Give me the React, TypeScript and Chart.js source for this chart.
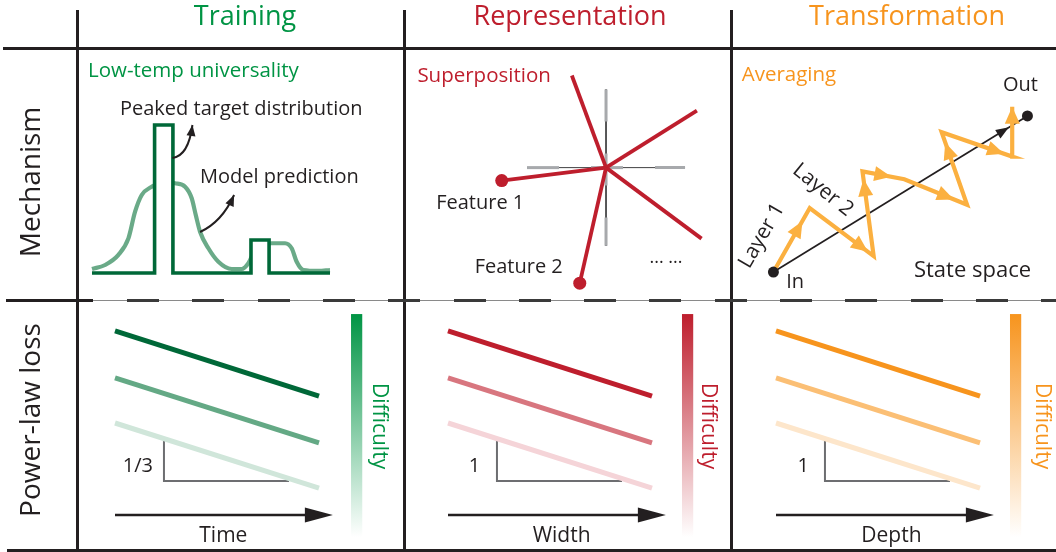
import React, { useEffect, useRef } from "react";
import { Chart, registerables } from "chart.js";

Chart.register(...registerables);

// ---------------- headings ----------------
const columnTitles = ["Training", "Representation", "Transformation"];
const rowTitles = ["Mechanism", "Power-law loss"];
const mechanismTitles = ["Low-temp universality", "Superposition", "Averaging"];
const resourceNames = ["Time", "Width", "Depth"];
const slopeNames = ["1/3", "1", "1"];
const featureNames = ["Feature 1", "Feature 2"];

// ---------------- Training: peaked target vs. model prediction ----------------
// token position (arbitrary units) and probability (peak = 1)
const targetToken = [0, 2.63, 2.63, 3.4, 3.4, 6.68, 6.68, 7.44, 7.44, 10];
const targetProb = [0, 0, 1, 1, 0, 0, 0.223, 0.223, 0, 0];
const predToken = [0, 0.55, 1.11, 1.53, 1.81, 2.09, 2.51, 2.98, 3.49, 3.91, 4.19, 4.36, 4.54, 4.89, 5.31, 5.87, 6.29, 6.57, 6.85, 7.14, 7.55, 8.11, 8.39, 8.6, 8.88, 9.51, 10];
const predProb = [0.027, 0.054, 0.122, 0.234, 0.414, 0.527, 0.583, 0.615, 0.606, 0.583, 0.505, 0.392, 0.279, 0.167, 0.076, 0.027, 0.027, 0.066, 0.155, 0.196, 0.201, 0.201, 0.167, 0.076, 0.02, 0.014, 0.02];

// ---------------- Representation: feature directions in a 2-D space ----------------
const featureX = [-1.056, -0.266, -0.346, 0.92, 0.967];
const featureY = [-0.133, -1.183, 0.943, 0.583, -0.727];

// ---------------- Transformation: per-layer updates through state space ----------------
const stateX = [0, 0.367, 1.013, 0.9, 1.323, 1.957, 1.7, 2.417, 2.413];
const stateY = [0, 0.653, 0.163, 1.027, 0.947, 0.687, 1.427, 1.177, 1.687];
const stateIn = [0, 0];
const stateOut = [2.567, 1.593];

// ---------------- Power-law loss (log-log), three difficulty levels ----------------
const logResource = [0, 1];
const lossHard = [0.902, 0.583];
const lossMedium = [0.672, 0.353];
const lossEasy = [0.451, 0.132];
const slopeGuideX = [0.24, 0.24, 0.853];
const slopeGuideY = [0.368, 0.167, 0.167];

// ---------------- layout & style ----------------
const W = 1056;
const H = 552;
const FONT = '"Open Sans", "Noto Sans", "DejaVu Sans", sans-serif';
const INK = "#231f20";
const GREEN = "#009444";
const RED = "#be1e2d";
const ORANGE = "#f7941d";
const AMBER = "#fbb040";
const columnCenters = [245, 570, 907];
const accent = [GREEN, RED, ORANGE];
const lossShades = [
  ["#006838", "#64a985", "#d0e6da"],
  ["#be1e2d", "#d8767f", "#f5d4d8"],
  ["#f7941d", "#fbbf75", "#fde6cb"],
];
const bottomOrigins = [115, 448, 776];
const axisTip = 1.068;
const resourceLabelX = [0.531, 0.557, 0.566];
const slopeLabelX = [0.186, 0.158, 0.162];
const barLeft = [1.157, 1.147, 1.147];
const difficultyX = [1.265, 1.245, 1.275];
const amberHeadT = [0.8, 0.91, 0.91, 0.69, 0.79, 0.86, 0.88, 1.0];

type Frame = { ox: number; oy: number; sx: number; sy: number };
type Px = (v: number) => number;
type Overlay = (ctx: CanvasRenderingContext2D, px: Px, py: Px) => void;

const pts = (xs: number[], ys: number[]) => xs.map((x, i) => ({ x, y: ys[i] }));

function line(data: { x: number; y: number }[], color: string, width: number, extra: any = {}) {
  return {
    data,
    showLine: true,
    borderColor: color,
    borderWidth: width,
    pointRadius: 0,
    pointHoverRadius: 0,
    fill: false,
    borderCapStyle: "butt",
    ...extra,
  };
}

function text(
  ctx: CanvasRenderingContext2D,
  s: string,
  x: number,
  y: number,
  o: { size: number; color?: string; align?: CanvasTextAlign; baseline?: CanvasTextBaseline; rot?: number }
) {
  ctx.save();
  ctx.translate(x, y);
  if (o.rot) ctx.rotate((o.rot * Math.PI) / 180);
  ctx.font = `400 ${o.size}px ${FONT}`;
  ctx.fillStyle = o.color || INK;
  ctx.textAlign = o.align || "left";
  ctx.textBaseline = o.baseline || "alphabetic";
  ctx.fillText(s, 0, 0);
  ctx.restore();
}

function arrowHead(ctx: CanvasRenderingContext2D, tx: number, ty: number, ang: number, len: number, half: number, color: string) {
  ctx.save();
  ctx.translate(tx, ty);
  ctx.rotate(ang);
  ctx.fillStyle = color;
  ctx.beginPath();
  ctx.moveTo(0, 0);
  ctx.lineTo(-len, -half);
  ctx.lineTo(-len, half);
  ctx.closePath();
  ctx.fill();
  ctx.restore();
}

function curvedArrow(ctx: CanvasRenderingContext2D, px: Px, py: Px, p: number[][]) {
  const [a, c, b] = p.map(([x, y]) => [px(x), py(y)]);
  ctx.save();
  ctx.strokeStyle = INK;
  ctx.lineWidth = 2;
  ctx.beginPath();
  ctx.moveTo(a[0], a[1]);
  ctx.quadraticCurveTo(c[0], c[1], b[0], b[1]);
  ctx.stroke();
  ctx.restore();
  arrowHead(ctx, b[0], b[1], Math.atan2(b[1] - c[1], b[0] - c[0]), 11, 4.5, INK);
}

function ChartLayer({ frame, datasets, overlay }: { frame: Frame; datasets: any[]; overlay: Overlay }) {
  const ref = useRef<HTMLCanvasElement | null>(null);
  useEffect(() => {
    const canvas = ref.current;
    if (!canvas) return;
    const chart = new Chart(canvas, {
      type: "scatter",
      data: { datasets },
      options: {
        animation: false,
        responsive: false,
        maintainAspectRatio: false,
        devicePixelRatio: 1,
        events: [],
        layout: { padding: 0 },
        plugins: { legend: { display: false }, tooltip: { enabled: false } },
        scales: {
          x: { type: "linear", display: false, bounds: "data", min: -frame.ox / frame.sx, max: (W - frame.ox) / frame.sx },
          y: { type: "linear", display: false, bounds: "data", min: (frame.oy - H) / frame.sy, max: frame.oy / frame.sy },
        },
      } as any,
      plugins: [
        {
          id: "panelOverlay",
          afterDatasetsDraw(c: any) {
            const ctx = c.ctx as CanvasRenderingContext2D;
            ctx.save();
            overlay(ctx, (v) => c.scales.x.getPixelForValue(v), (v) => c.scales.y.getPixelForValue(v));
            ctx.restore();
          },
        },
      ],
    });
    return () => chart.destroy();
  }, []);
  return <canvas ref={ref} width={W} height={H} style={{ position: "absolute", left: 0, top: 0, width: W, height: H }} />;
}

// ---------------- panel: Training / Mechanism ----------------
const trainingFrame: Frame = { ox: 92, oy: 273, sx: 23.8, sy: 148 };
const targetCallout = [[3.376, 0.777], [4.05, 0.791], [4.22, 1.0]];
const predCallout = [[4.54, 0.277], [5.46, 0.345], [5.97, 0.527]];
const trainingSets = [
  line(pts(targetToken, targetProb), "#006838", 3.6, { fill: "origin", backgroundColor: "#ffffff", borderJoinStyle: "miter" }),
  line(pts(predToken, predProb), "#6aaa88", 4.2, { cubicInterpolationMode: "monotone" }),
];
const trainingOverlay: Overlay = (ctx, px, py) => {
  text(ctx, columnTitles[0], columnCenters[0], 25, { size: 27, color: GREEN, align: "center" });
  text(ctx, rowTitles[0], 40, 182, { size: 28, align: "center", rot: -90 });
  text(ctx, mechanismTitles[0], px(-0.168), py(1.324), { size: 20.5, color: GREEN });
  text(ctx, "Peaked target distribution", px(1.176), py(1.068), { size: 20 });
  text(ctx, "Model prediction", px(4.538), py(0.608), { size: 20 });
  curvedArrow(ctx, px, py, targetCallout);
  curvedArrow(ctx, px, py, predCallout);
};

// ---------------- panel: Representation / Mechanism ----------------
const reprFrame: Frame = { ox: 607, oy: 165, sx: 100, sy: 100 };
const reprSets = [
  { data: pts(featureX.slice(0, 2), featureY.slice(0, 2)), showLine: false, pointRadius: 6.5, pointBackgroundColor: RED, pointBorderWidth: 0 },
  ...featureX.map((fx, i) => line(pts([0, fx], [0, featureY[i]]), RED, 3.8)),
  line(pts([-0.8, 0.8], [0, 0]), "#a7a9ac", 3, { borderDash: [32, 32] }),
  line(pts([0, 0], [0.8, -0.8]), "#a7a9ac", 3, { borderDash: [32, 32] }),
  line(pts([-0.8, 0.8], [0, 0]), "#414042", 1),
  line(pts([0, 0], [0.8, -0.8]), "#414042", 1),
];
const featureLabelX = [-1.72, -1.33];
const featureLabelY = [-0.42, -1.08];
const reprOverlay: Overlay = (ctx, px, py) => {
  text(ctx, columnTitles[1], columnCenters[1], 25, { size: 27, color: RED, align: "center" });
  text(ctx, mechanismTitles[1], px(-1.91), py(0.88), { size: 20.5, color: RED });
  featureNames.forEach((n, i) => text(ctx, n, px(featureLabelX[i]), py(featureLabelY[i]), { size: 20 }));
  text(ctx, "... ...", px(0.44), py(-0.98), { size: 18 });
};

// ---------------- panel: Transformation / Mechanism ----------------
const transFrame: Frame = { ox: 776, oy: 272, sx: 100, sy: 100 };
const transSets = [
  { data: pts([stateIn[0], stateOut[0]], [stateIn[1], stateOut[1]]), showLine: false, pointRadius: 5.5, pointBackgroundColor: INK, pointBorderWidth: 0 },
  line(pts(stateX, stateY), AMBER, 4.2, { borderJoinStyle: "miter" }),
  line(pts([stateIn[0], stateOut[0]], [stateIn[1], stateOut[1]]), INK, 1.7),
];
const transOverlay: Overlay = (ctx, px, py) => {
  text(ctx, columnTitles[2], columnCenters[2], 25, { size: 27, color: ORANGE, align: "center" });
  text(ctx, mechanismTitles[2], px(-0.32), py(1.95), { size: 20.5, color: ORANGE });
  text(ctx, "Out", px(2.32), py(1.85), { size: 20 });
  text(ctx, "In", px(0.13), py(-0.16), { size: 20 });
  text(ctx, "State space", px(1.42), py(-0.05), { size: 22 });
  text(ctx, "Layer 1", px(-0.117), py(0.37), { size: 21, align: "center", baseline: "middle", rot: -60 });
  text(ctx, "Layer 2", px(0.5), py(0.837), { size: 21, align: "center", baseline: "middle", rot: 39 });
  // arrowhead on the direct In -> Out route
  {
    const t = 0.927;
    const ax = px(stateIn[0]), ay = py(stateIn[1]), bx = px(stateOut[0]), by = py(stateOut[1]);
    arrowHead(ctx, ax + (bx - ax) * t, ay + (by - ay) * t, Math.atan2(by - ay, bx - ax), 13, 5, INK);
  }
  // arrowheads on each per-layer update
  for (let i = 0; i < stateX.length - 1; i++) {
    const ax = px(stateX[i]), ay = py(stateY[i]), bx = px(stateX[i + 1]), by = py(stateY[i + 1]);
    const t = amberHeadT[i];
    arrowHead(ctx, ax + (bx - ax) * t, ay + (by - ay) * t, Math.atan2(by - ay, bx - ax), 17, 7.5, AMBER);
  }
};

// ---------------- panels: Power-law loss ----------------
const lossFrame = (i: number): Frame => ({ ox: bottomOrigins[i], oy: 515, sx: 204, sy: 204 });
const lossSets = (i: number) => [
  ...[lossHard, lossMedium, lossEasy].map((ys, k) => line(pts(logResource, ys), lossShades[i][k], 5)),
  line(pts(slopeGuideX, slopeGuideY), "#6d6e71", 2, { borderJoinStyle: "miter" }),
  line(pts([0, axisTip - 0.1], [0, 0]), INK, 2.6),
];
const lossOverlay = (i: number): Overlay => (ctx, px, py) => {
  if (i === 0) text(ctx, rowTitles[1], 40, 420, { size: 28, align: "center", rot: -90 });
  text(ctx, slopeNames[i], px(slopeLabelX[i]), py(0.211), { size: 20, align: "right" });
  arrowHead(ctx, px(axisTip), py(0), 0, 28, 7.5, INK);
  text(ctx, resourceNames[i], px(resourceLabelX[i]), py(-0.132), { size: 21, align: "center" });
  const x0 = px(barLeft[i]);
  const x1 = px(barLeft[i] + 0.055);
  const y0 = py(0.985);
  const y1 = py(-0.108);
  const g = ctx.createLinearGradient(0, y0, 0, y1);
  g.addColorStop(0, accent[i]);
  g.addColorStop(1, "rgba(255,255,255,1)");
  ctx.fillStyle = g;
  ctx.fillRect(x0, y0, x1 - x0, y1 - y0);
  text(ctx, "Difficulty", px(difficultyX[i]), py(0.436), { size: 21, color: accent[i], align: "center", rot: 90 });
};

// ---------------- frame ----------------
const rule = (left: number, top: number, width: number, height: number, bg: string = INK): React.CSSProperties => ({
  position: "absolute",
  left,
  top,
  width,
  height,
  background: bg,
});

export default function App() {
  return (
    <div style={{ position: "fixed", left: 0, top: 0, width: W, height: H, background: "#ffffff", overflow: "hidden" }}>
      <ChartLayer frame={trainingFrame} datasets={trainingSets} overlay={trainingOverlay} />
      <ChartLayer frame={reprFrame} datasets={reprSets} overlay={reprOverlay} />
      <ChartLayer frame={transFrame} datasets={transSets} overlay={transOverlay} />
      {[0, 1, 2].map((i) => (
        <ChartLayer key={i} frame={lossFrame(i)} datasets={lossSets(i)} overlay={lossOverlay(i)} />
      ))}
      <div style={rule(3, 47, 1053, 3)} />
      <div style={rule(76, 10, 3, 542)} />
      <div style={rule(403, 10, 3, 542)} />
      <div style={rule(730, 10, 3, 542)} />
      <div style={rule(6, 299, 87, 3)} />
      <div style={rule(93, 300, 963, 1, "#8a8a8a")} />
      <div
        style={rule(
          127,
          299,
          929,
          3,
          "repeating-linear-gradient(to right, #3a3a3a 0px, #3a3a3a 32px, transparent 32px, transparent 65.3px)"
        )}
      />
      <div style={rule(7, 549, 1049, 3)} />
    </div>
  );
}
